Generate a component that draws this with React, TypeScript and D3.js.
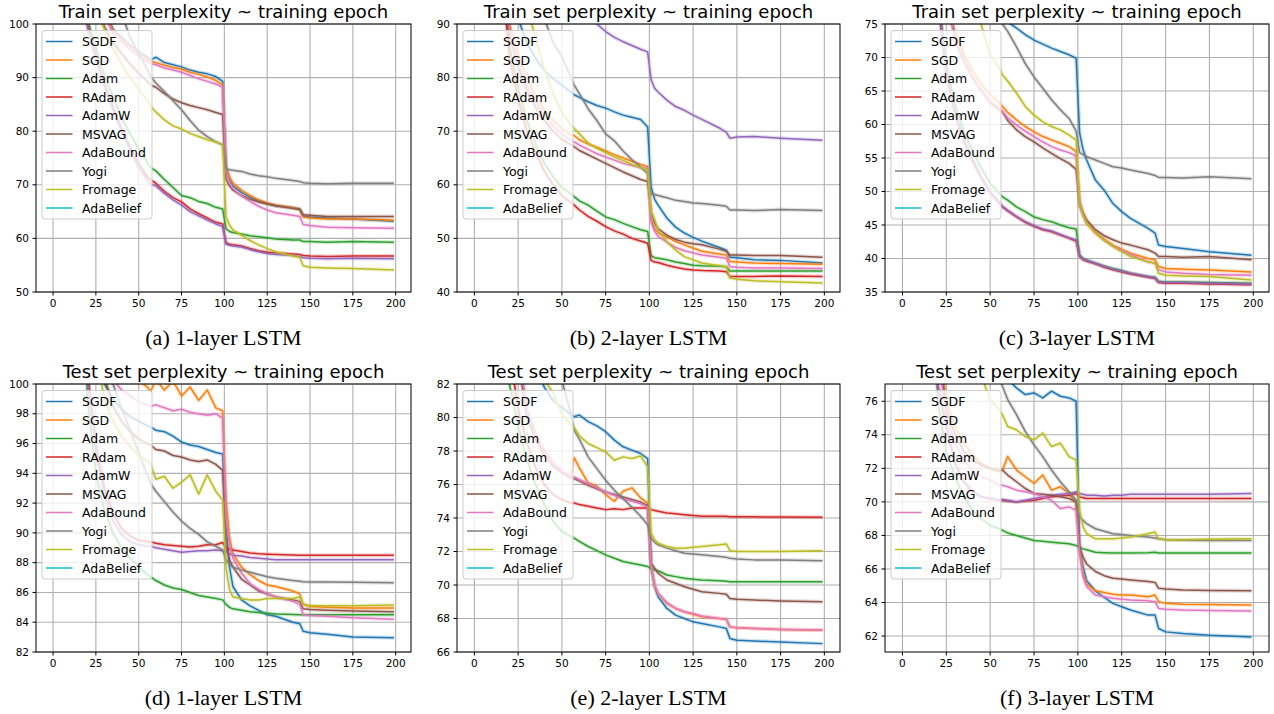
import React from 'react';
import * as d3 from 'd3';

const epochs = [0, 10, 20, 25, 30, 35, 40, 45, 50, 55, 57, 60, 65, 70, 75, 80, 85, 90, 95, 99, 101, 103, 105, 110, 115, 120, 125, 130, 140, 144, 146, 150, 160, 175, 199];

const seriesNames = ['SGDF', 'SGD', 'Adam', 'RAdam', 'AdamW', 'MSVAG', 'AdaBound', 'Yogi', 'Fromage', 'AdaBelief'];
const seriesColors = ['#1f77b4', '#ff7f0e', '#2ca02c', '#d62728', '#9467bd', '#8c564b', '#e377c2', '#7f7f7f', '#bcbd22', '#17becf'];
const xTicks = [0, 25, 50, 75, 100, 125, 150, 175, 200];

// (a) train, 1-layer
const trainL1_SGDF = [300,160,120,110,103, 99,97.5,96,94.8,93.8, 93.3,93.8,92.8,92.4,92.0, 91.4,91.0,90.7,90.2,89.3, 73.0,71.0,69.8,68.6,67.7, 67.0,66.5,66.1,65.7,65.5, 64.2,64.0,63.8,63.6,63.2];
const trainL1_SGD = [300,160,118,108,102, 98.8,97.2,95.8,94.5,93.5, 93.0,92.8,92.3,91.9,91.6, 91.0,90.6,90.1,89.5,88.6, 73.5,71.5,70.3,69.0,68.0, 67.2,66.6,66.2,65.7,65.4, 64.0,63.8,63.6,63.6,63.4];
const trainL1_Adam = [250,140,101,95.5,90.5, 86.5,82.5,79.5,76.8,74.2, 73.2,72.6,71.0,69.5,68.0, 67.6,66.9,66.5,65.8,65.5, 61.8,61.3,61.1,60.8,60.5, 60.3,60.1,59.9,59.7,59.7, 59.4,59.4,59.3,59.4,59.3];
const trainL1_RAdam = [250,140,100,94,89, 84.5,80.5,77,74,71.5, 70.9,70.3,68.8,67.6,66.8, 65.5,64.6,63.8,63.0,62.7, 59.2,58.9,58.8,58.6,58.1, 57.7,57.4,57.3,57.1,57.0, 56.8,56.7,56.6,56.7,56.7];
const trainL1_AdamW = [250,140,99.5,93.5,88.5, 84,80,76.5,73.2,70.8, 70.1,69.8,68.4,67.2,66.2, 65.0,64.2,63.4,62.7,62.2, 58.9,58.7,58.6,58.4,57.9, 57.5,57.2,57.0,56.8,56.6, 56.4,56.3,56.2,56.3,56.2];
const trainL1_MSVAG = [300,150,112,104,99.5, 96.5,94.5,92.5,90.8,89.3, 88.6,88.2,87.0,86.0,85.3, 84.8,84.4,84.0,83.5,83.1, 71.0,69.8,69.0,68.0,67.3, 66.8,66.4,66.1,65.6,65.4, 64.4,64.3,64.1,64.1,64.1];
const trainL1_AdaBound = [300,160,117,107,101.5, 98.3,96.7,95.2,94.0,93.0, 92.6,92.4,91.8,91.4,91.0, 90.4,89.8,89.3,88.8,88.2, 72.5,70.5,69.3,67.9,66.9, 66.0,65.3,64.8,64.3,64.1, 62.6,62.4,62.1,62.0,61.9];
const trainL1_Yogi = [400,200,140,125,115, 108,102,97.5,94.5,91.5, 90.2,89.0,87.4,85.7,84.0, 82.0,80.2,79.0,78.0,77.5, 73.0,72.8,72.7,72.5,72.0, 71.7,71.5,71.2,70.8,70.6, 70.4,70.3,70.2,70.3,70.3];
const trainL1_Fromage = [300,150,110,103,99, 95.5,92.5,90,87.8,85.8, 84.6,83.6,82.1,81.0,80.4, 79.6,79.0,78.4,78.0,77.4, 64.0,62.5,61.6,60.6,59.6, 58.8,58.1,57.5,56.7,56.5, 54.9,54.6,54.5,54.4,54.1];

// (b) train, 2-layer
const trainL2_SGDF = [300,130,98,91,86.5, 83.6,81.3,79.8,78.6,77.3, 76.8,76.3,75.5,74.8,74.3, 73.6,73.0,72.6,72.2,70.8, 59.6,57.3,56.2,53.8,52.1, 51.0,50.2,49.5,48.3,47.8, 46.5,46.4,46.0,45.9,45.4];
const trainL2_SGD = [300,120,90,84.5,80, 76.5,74,72,70.5,69.3, 69.2,68.4,67.6,67.0,66.3, 65.6,65.0,64.4,63.8,63.4, 53.5,51.8,51.0,50.3,49.4, 48.8,48.2,47.6,47.1,46.9, 45.7,45.6,45.4,45.3,45.2];
const trainL2_Adam = [250,120,86,78,72, 67.5,64,61.5,59.5,58.3, 57.8,57.0,56.2,55.1,54.0, 53.5,52.8,52.2,51.6,51.3, 46.8,46.4,46.3,46.0,45.6, 45.3,45.0,44.9,44.8,44.7, 43.9,43.9,43.9,43.9,43.9];
const trainL2_RAdam = [250,120,84,76,70, 66,62.5,60,58,56.7, 56.2,55.3,54.1,53.2,52.2, 51.4,50.8,50.0,49.5,49.1, 45.9,45.6,45.5,45.0,44.6, 44.3,44.1,44.0,43.9,43.8, 42.9,42.9,42.9,43.0,42.9];
const trainL2_AdamW = [400,200,150,135,125, 117,110,104,99,95, 94,93,91.5,90,88.6, 87.5,86.7,86.0,85.3,84.8, 79.6,78.0,77.3,75.8,74.6, 73.9,73.0,72.2,70.6,69.8, 68.7,68.9,69.0,68.7,68.3];
const trainL2_MSVAG = [300,120,88,82,77.5, 74.5,72,70,68.5,67.5, 67.1,66.4,65.6,64.8,64.0, 63.2,62.4,61.7,61.0,60.6, 55.0,52.8,51.8,50.6,49.8, 49.3,49.0,48.8,48.0,47.6, 46.9,46.9,46.8,46.8,46.5];
const trainL2_AdaBound = [300,120,89,83,78.5, 75.5,73,71,69.5,68.3, 68.0,67.4,66.6,65.8,65.2, 64.6,64.0,63.6,63.2,63.1, 53.0,51.3,50.4,49.3,48.3, 47.7,47.3,46.9,46.5,46.3, 44.7,44.6,44.5,44.5,44.4];
const trainL2_Yogi = [400,200,130,115,105, 97,91,86.5,83.9,80.2, 78.6,77.0,74.2,72.0,69.5, 68.2,66.3,64.7,63.3,62.1, 58.3,58.2,58.0,57.6,57.1, 56.9,56.6,56.5,56.2,56.0, 55.3,55.3,55.2,55.4,55.2];
const trainL2_Fromage = [300,150,110,100,93, 87.5,81.5,77,73.5,71.2, 70.5,69.5,67.8,66.8,66.0, 65.2,64.5,63.8,63.2,62.8, 55.0,53.5,51.5,49.4,47.8, 46.6,46.0,45.4,44.9,44.7, 42.6,42.4,42.1,41.9,41.7];

// (c) train, 3-layer
const trainL3_SGDF = [400,200,130,115,103, 95,88,83,79.5,77, 76.2,75.3,74.4,73.4,72.6, 72.0,71.4,70.9,70.4,69.9, 58.7,56.2,54.7,51.7,50.2, 48.2,47.0,46.0,44.5,43.8, 42.0,41.8,41.5,41.0,40.5];
const trainL3_SGD = [400,200,100,78,73.8, 70.5,68,66,64.5,63.3, 62.7,61.8,60.7,59.7,58.9, 58.2,57.7,57.2,56.7,56.0, 48.5,46.8,45.7,44.0,42.9, 42.0,41.4,40.8,40.0,39.8, 38.8,38.5,38.4,38.3,38.0];
const trainL3_Adam = [300,150,80,69,63, 59,56,53.5,51.2,49.8, 49.2,48.7,47.7,47.0,46.2, 45.8,45.5,45.0,44.6,44.4, 40.5,40.0,39.8,39.3,38.9, 38.5,38.2,37.8,37.3,37.2, 36.6,36.5,36.5,36.4,36.3];
const trainL3_RAdam = [300,150,79,67.5,61.5, 57.5,54.5,52,49.8,48.3, 47.7,47.1,46.2,45.4,44.8, 44.3,44.0,43.5,43.0,42.6, 40.3,39.8,39.6,39.2,38.7, 38.3,38.0,37.7,37.2,37.0, 36.4,36.3,36.3,36.2,36.1];
const trainL3_AdamW = [300,150,79.5,68,62, 57.8,54.8,52.2,50.0,48.5, 47.8,47.2,46.3,45.5,44.9, 44.4,44.1,43.6,43.1,42.8, 40.4,39.9,39.7,39.3,38.8, 38.4,38.1,37.8,37.3,37.1, 36.5,36.4,36.4,36.3,36.2];
const trainL3_MSVAG = [400,200,100,80,72.5, 69.5,67,65,63.3,62.2, 61.9,60.6,59.2,58.2,57.4, 56.5,55.7,54.9,54.2,53.3, 48.0,46.7,45.7,44.3,43.4, 42.8,42.3,42.0,41.3,40.8, 40.3,40.3,40.2,40.3,39.8];
const trainL3_AdaBound = [400,200,100,80,72.5, 69.5,67,65,63.5,62.4, 61.9,61.0,59.9,59.0,58.2, 57.4,56.7,56.2,55.8,55.3, 48.0,46.3,45.2,43.8,42.7, 41.8,41.2,40.6,39.5,39.3, 38.3,38.0,37.8,37.6,37.5];
const trainL3_Yogi = [400,200,140,125,110, 99,90,83,78.5,76, 75.0,73.9,71.6,69.1,67.1, 65.4,63.7,62.2,60.9,59.0, 55.8,55.5,55.2,54.7,54.2, 53.7,53.5,53.2,52.7,52.4, 52.1,52.1,52.0,52.2,51.9];
const trainL3_Fromage = [400,200,110,97,88, 82,78,74.8,70.4,68.6, 67.4,66.5,64.7,62.7,61.4, 60.4,59.7,59.2,58.4,57.7, 48.2,46.5,45.2,43.8,42.7, 41.8,41.0,40.3,39.5,39.3, 37.8,37.5,37.4,37.3,36.8];

// (d) test, 1-layer
const testL1_SGDF = [300,150,110,103,100, 99,98.3,97.8,97.5,97.2, 97.1,96.9,96.8,96.5,96.1, 95.9,95.8,95.6,95.4,95.3, 90.4,87.7,86.4,85.5,85.1, 84.8,84.5,84.4,84.0,83.9, 83.4,83.3,83.2,83.0,82.95];
const testL1_SGD = [300,150,115,108,104, 102,101,100.5,100.2,99.8, 99.5,100.3,99.6,100.2,99.2, 99.8,98.9,99.6,98.4,98.2, 92.2,89.7,88.6,87.7,87.2, 86.8,86.5,86.4,86.1,85.9, 85.2,85.05,85.0,84.95,84.95];
const testL1_Adam = [300,150,99,94,91.5, 90,89,88.3,87.7,87.2, 87.05,86.8,86.5,86.3,86.2, 86.0,85.8,85.7,85.6,85.5, 85.2,85.0,84.9,84.8,84.7, 84.65,84.6,84.55,84.52,84.5, 84.5,84.5,84.5,84.5,84.5];
const testL1_RAdam = [300,150,101,96,93, 91.3,90.3,89.8,89.5,89.4, 89.4,89.3,89.2,89.15,89.1, 89.05,89.1,89.2,89.2,89.35, 89.0,88.9,88.85,88.75,88.65, 88.6,88.57,88.55,88.52,88.5, 88.5,88.5,88.5,88.5,88.5];
const testL1_AdamW = [300,150,100.5,95.5,92.5, 90.8,89.9,89.4,89.2,89.1, 89.1,89.0,88.9,88.8,88.7, 88.75,88.8,88.8,88.85,88.8, 88.75,88.6,88.5,88.45,88.35, 88.3,88.25,88.2,88.2,88.2, 88.2,88.2,88.2,88.2,88.2];
const testL1_MSVAG = [300,150,110,104,100.5, 98.5,97.5,96.8,96.3,96.0, 95.9,95.6,95.5,95.2,95.1, 94.9,94.8,94.9,94.6,94.2, 89.1,88.2,87.7,86.9,86.5, 86.1,85.9,85.7,85.5,85.4, 84.9,84.85,84.8,84.75,84.7];
const testL1_AdaBound = [300,150,112,106,102, 100.3,99.6,99.2,98.8,98.6, 98.5,98.6,98.4,98.2,98.3, 98.1,98.0,97.9,98.0,97.7, 91.0,89.2,88.3,87.3,86.6, 86.2,85.9,85.7,85.4,85.2, 84.5,84.45,84.4,84.3,84.2];
const testL1_Yogi = [400,200,130,115,103, 100,98.4,96.9,95.4,93.9, 93.3,92.8,92.1,91.4,90.8, 90.3,89.9,89.4,89.1,88.85, 88.2,87.9,87.7,87.5,87.35, 87.2,87.05,86.95,86.8,86.75, 86.72,86.7,86.7,86.68,86.65];
const testL1_Fromage = [300,150,110,102,99, 97.5,96.5,95.8,95.2,94.8, 94.6,93.6,93.8,93.0,93.4, 93.9,92.6,93.9,92.8,92.2, 87.6,86.2,85.7,85.6,85.5, 85.5,85.6,85.6,85.6,85.7, 85.2,85.1,85.1,85.1,85.15];

// (e) test, 2-layer
const testL2_SGDF = [300,150,100,92,87, 83,81.8,81.0,80.6,80.2, 80.05,80.15,79.75,79.5,79.15, 78.65,78.25,78.05,77.85,77.55, 71.1,69.9,69.3,68.6,68.2, 68.0,67.8,67.7,67.5,67.4, 66.8,66.7,66.65,66.6,66.5];
const testL2_SGD = [300,150,95,84,80.5, 79,78,77.3,76.8,76.5, 77.6,77.0,76.1,75.9,75.4, 75.0,75.6,75.8,75.2,74.9, 71.1,69.9,69.5,68.9,68.6, 68.4,68.25,68.1,68.0,67.95, 67.5,67.45,67.4,67.35,67.3];
const testL2_Adam = [300,150,82,79.5,77.5, 76,74.8,73.8,73.2,72.9, 72.8,72.6,72.3,72.05,71.8, 71.6,71.4,71.3,71.2,71.1, 71.0,70.9,70.85,70.6,70.5, 70.4,70.35,70.3,70.25,70.22, 70.2,70.2,70.2,70.2,70.2];
const testL2_RAdam = [300,150,84,80.5,78.5, 77,76,75.4,75.1,74.9, 74.9,74.8,74.7,74.6,74.5, 74.55,74.5,74.6,74.6,74.6, 74.5,74.45,74.4,74.3,74.25, 74.2,74.15,74.1,74.1,74.1, 74.08,74.08,74.07,74.06,74.05];
const testL2_MSVAG = [300,150,94,83.5,80, 78.7,77.8,77.1,76.7,76.4, 76.35,76.2,75.95,75.75,75.55, 75.4,75.25,75.1,74.95,74.75, 71.3,71.0,70.7,70.3,70.1, 69.9,69.75,69.6,69.5,69.45, 69.2,69.15,69.1,69.05,69.0];
const testL2_AdaBound = [300,150,95,84,80.5, 79,78,77.3,76.8,76.5, 76.45,76.3,76.05,75.8,75.55, 75.35,75.15,75.0,74.85,74.65, 71.2,70.0,69.5,68.95,68.6, 68.4,68.3,68.15,68.0,67.95, 67.5,67.45,67.4,67.35,67.32];
const testL2_Yogi = [400,200,120,105,95, 89,85.5,84,82.2,80.3, 79.25,78.7,77.65,76.95,76.25, 75.65,75.15,74.65,74.1,73.6, 72.8,72.55,72.4,72.2,72.05, 71.9,71.85,71.8,71.7,71.65, 71.6,71.55,71.5,71.5,71.45];
const testL2_Fromage = [300,150,100,90,85, 83,82.2,81.5,80.2,79.6, 79.4,78.9,78.45,78.2,77.95, 77.45,77.65,77.55,77.7,77.05, 73.1,72.7,72.5,72.3,72.2, 72.2,72.25,72.3,72.4,72.45, 72.05,72.0,72.0,72.0,72.05];

// (f) test, 3-layer
const testL3_SGDF = [400,200,120,105,95, 88,83.5,80.5,79,78, 77.6,77.3,76.8,76.4,76.5, 76.2,76.6,76.3,76.2,76.0, 67.3,66.1,65.3,64.7,64.3, 63.95,63.75,63.55,63.25,63.25, 62.45,62.25,62.15,62.05,61.95];
const testL3_SGD = [300,150,80,76,74.5, 73.5,72.8,72.3,72.0,71.8, 71.9,72.7,71.9,71.5,71.1, 71.6,70.7,70.9,70.5,69.9, 67.3,65.7,65.1,64.7,64.6, 64.5,64.45,64.45,64.35,64.45, 64.05,63.95,63.9,63.88,63.85];
const testL3_Adam = [300,150,76,73,71.5, 70.3,69.5,69.0,68.6,68.4, 68.3,68.15,68.0,67.85,67.7, 67.65,67.6,67.55,67.5,67.4, 67.3,67.2,67.15,67.0,66.97, 66.95,66.95,66.95,66.97,67.0, 66.95,66.95,66.95,66.95,66.95];
const testL3_RAdam = [300,150,77,74.5,72.3, 71.2,70.6,70.3,70.2,70.1, 70.1,70.05,70.0,70.05,70.1, 70.2,70.3,70.35,70.4,70.5, 70.3,70.25,70.2,70.2,70.2, 70.2,70.2,70.2,70.2,70.2, 70.2,70.2,70.2,70.2,70.2];
const testL3_AdamW = [300,150,77,74.5,72.3, 71.2,70.6,70.3,70.2,70.1, 70.15,70.1,70.0,70.1,70.2, 70.3,70.4,70.45,70.5,70.6, 70.5,70.45,70.4,70.4,70.35, 70.4,70.4,70.45,70.45,70.45, 70.45,70.45,70.45,70.45,70.5];
const testL3_MSVAG = [300,150,79.5,75.5,74, 73,72.5,72.2,72.0,71.9, 71.9,71.6,71.2,70.8,70.5, 70.45,70.4,70.3,70.2,70.0, 67.3,66.7,66.3,65.85,65.6, 65.45,65.4,65.35,65.25,65.2, 64.85,64.8,64.75,64.72,64.7];
const testL3_AdaBound = [300,150,79,75,73.5, 72.5,71.9,71.5,71.3,71.0, 71.0,70.9,70.7,70.6,70.5, 70.3,70.1,69.6,69.7,69.5, 66.9,65.5,64.95,64.45,64.35, 64.25,64.2,64.15,64.1,64.05, 63.65,63.6,63.55,63.52,63.5];
const testL3_Yogi = [400,200,120,105,95, 88,84,81,79,77.5, 76.9,76.1,75.2,74.2,73.4, 72.7,71.9,71.2,70.6,70.1, 69.1,68.9,68.7,68.4,68.25, 68.1,68.05,68.0,67.9,67.85, 67.8,67.75,67.72,67.7,67.7];
const testL3_Fromage = [400,200,110,95,88, 83,80,77.5,76.1,75.5, 75.2,74.5,74.3,73.9,73.7, 74.1,73.3,73.5,72.7,72.5, 69.5,68.5,68.1,67.8,67.8, 67.8,67.85,67.9,68.1,68.2, 67.8,67.75,67.75,67.78,67.8];

const TRAIN_TITLE = 'Train set perplexity ~ training epoch';
const TEST_TITLE = 'Test set perplexity ~ training epoch';

type PanelCfg = {
  id: string;
  title: string;
  caption: string;
  yDomain: [number, number];
  yTicks: number[];
  box: { left: number; right: number; top: number; bottom: number };
  series: (number[] | null)[];
};

const panels: PanelCfg[] = [
  {
    id: 'a', title: TRAIN_TITLE, caption: '(a) 1-layer LSTM',
    yDomain: [50, 100], yTicks: d3.range(50, 101, 10),
    box: { left: 36, right: 411, top: 24, bottom: 292 },
    series: [trainL1_SGDF, trainL1_SGD, trainL1_Adam, trainL1_RAdam, trainL1_AdamW, trainL1_MSVAG, trainL1_AdaBound, trainL1_Yogi, trainL1_Fromage, null],
  },
  {
    id: 'b', title: TRAIN_TITLE, caption: '(b) 2-layer LSTM',
    yDomain: [40, 90], yTicks: d3.range(40, 91, 10),
    box: { left: 457, right: 840, top: 24, bottom: 292 },
    series: [trainL2_SGDF, trainL2_SGD, trainL2_Adam, trainL2_RAdam, trainL2_AdamW, trainL2_MSVAG, trainL2_AdaBound, trainL2_Yogi, trainL2_Fromage, null],
  },
  {
    id: 'c', title: TRAIN_TITLE, caption: '(c) 3-layer LSTM',
    yDomain: [35, 75], yTicks: d3.range(35, 76, 5),
    box: { left: 885, right: 1269, top: 24, bottom: 292 },
    series: [trainL3_SGDF, trainL3_SGD, trainL3_Adam, trainL3_RAdam, trainL3_AdamW, trainL3_MSVAG, trainL3_AdaBound, trainL3_Yogi, trainL3_Fromage, null],
  },
  {
    id: 'd', title: TEST_TITLE, caption: '(d) 1-layer LSTM',
    yDomain: [82, 100], yTicks: d3.range(82, 101, 2),
    box: { left: 36, right: 411, top: 384, bottom: 652 },
    series: [testL1_SGDF, testL1_SGD, testL1_Adam, testL1_RAdam, testL1_AdamW, testL1_MSVAG, testL1_AdaBound, testL1_Yogi, testL1_Fromage, null],
  },
  {
    id: 'e', title: TEST_TITLE, caption: '(e) 2-layer LSTM',
    yDomain: [66, 82], yTicks: d3.range(66, 83, 2),
    box: { left: 457, right: 840, top: 384, bottom: 652 },
    series: [testL2_SGDF, testL2_SGD, testL2_Adam, testL2_RAdam, null, testL2_MSVAG, testL2_AdaBound, testL2_Yogi, testL2_Fromage, null],
  },
  {
    id: 'f', title: TEST_TITLE, caption: '(f) 3-layer LSTM',
    yDomain: [61.05, 77.03], yTicks: d3.range(62, 77, 2),
    box: { left: 885, right: 1269, top: 384, bottom: 652 },
    series: [testL3_SGDF, testL3_SGD, testL3_Adam, testL3_RAdam, testL3_AdamW, testL3_MSVAG, testL3_AdaBound, testL3_Yogi, testL3_Fromage, null],
  },
];

const SANS = 'DejaVu Sans, sans-serif';

const Panel = ({ cfg }: { cfg: PanelCfg }) => {
  const { box } = cfg;
  const x = d3.scaleLinear().domain([-9.95, 208.95]).range([box.left, box.right]);
  const y = d3.scaleLinear().domain(cfg.yDomain).range([box.bottom, box.top]);
  const line = d3.line<number>().x((_, i) => x(epochs[i])).y((d) => y(d));
  const clipId = `clip-${cfg.id}`;
  const lx = box.left + 6;
  const ly = box.top + 6.5;
  const cx = (box.left + box.right) / 2;

  return (
    <g>
      <defs>
        <clipPath id={clipId}>
          <rect x={box.left} y={box.top} width={box.right - box.left} height={box.bottom - box.top} />
        </clipPath>
      </defs>

      {/* grid */}
      <g stroke="#b0b0b0" strokeWidth={1.1}>
        {xTicks.map((t) => (
          <line key={`gx${t}`} x1={x(t)} x2={x(t)} y1={box.top} y2={box.bottom} />
        ))}
        {cfg.yTicks.map((t) => (
          <line key={`gy${t}`} x1={box.left} x2={box.right} y1={y(t)} y2={y(t)} />
        ))}
      </g>

      {/* curves */}
      <g clipPath={`url(#${clipId})`} fill="none" strokeLinejoin="round">
        {cfg.series.map((s, i) =>
          s ? (
            <g key={seriesNames[i]}>
              <path d={line(s) ?? ''} stroke={seriesColors[i]} strokeWidth={4} strokeOpacity={0.22} />
              <path d={line(s) ?? ''} stroke={seriesColors[i]} strokeWidth={1.5} />
            </g>
          ) : null
        )}
      </g>

      {/* frame */}
      <rect x={box.left} y={box.top} width={box.right - box.left} height={box.bottom - box.top} fill="none" stroke="#000" strokeWidth={1} />

      {/* axes */}
      <g fontFamily={SANS} fontSize={10.5} fill="#000">
        {xTicks.map((t) => (
          <g key={`tx${t}`}>
            <line x1={x(t)} x2={x(t)} y1={box.bottom} y2={box.bottom + 3.5} stroke="#000" />
            <text x={x(t)} y={box.bottom + 14.5} textAnchor="middle">{t}</text>
          </g>
        ))}
        {cfg.yTicks.map((t) => (
          <g key={`ty${t}`}>
            <line x1={box.left - 3.5} x2={box.left} y1={y(t)} y2={y(t)} stroke="#000" />
            <text x={box.left - 7} y={y(t)} dy="0.35em" textAnchor="end">{t}</text>
          </g>
        ))}
      </g>

      {/* legend */}
      <g>
        <rect x={lx} y={ly} width={110} height={188.5} rx={3} fill="#fff" fillOpacity={0.8} stroke="#cccccc" strokeWidth={1} />
        {seriesNames.map((name, i) => {
          const ry = ly + 11 + i * 18.5;
          return (
            <g key={name}>
              <line x1={lx + 4} x2={lx + 30.5} y1={ry} y2={ry} stroke={seriesColors[i]} strokeWidth={1.5} />
              <text x={lx + 40} y={ry} dy="0.36em" fontFamily={SANS} fontSize={12.5} fill="#000">{name}</text>
            </g>
          );
        })}
      </g>

      {/* title & caption */}
      <text x={cx} y={box.top - 6} textAnchor="middle" fontFamily={SANS} fontSize={18} fill="#000">{cfg.title}</text>
      <text x={cx} y={box.bottom + 53} textAnchor="middle" fontFamily="Liberation Serif, Times New Roman, serif" fontSize={22} fill="#000">{cfg.caption}</text>
    </g>
  );
};

export default function App() {
  return (
    <svg width={1274} height={714} style={{ position: 'absolute', left: 0, top: 0, background: '#fff' }}>
      <rect width={1274} height={714} fill="#fff" />
      {panels.map((p) => (
        <Panel key={p.id} cfg={p} />
      ))}
    </svg>
  );
}
